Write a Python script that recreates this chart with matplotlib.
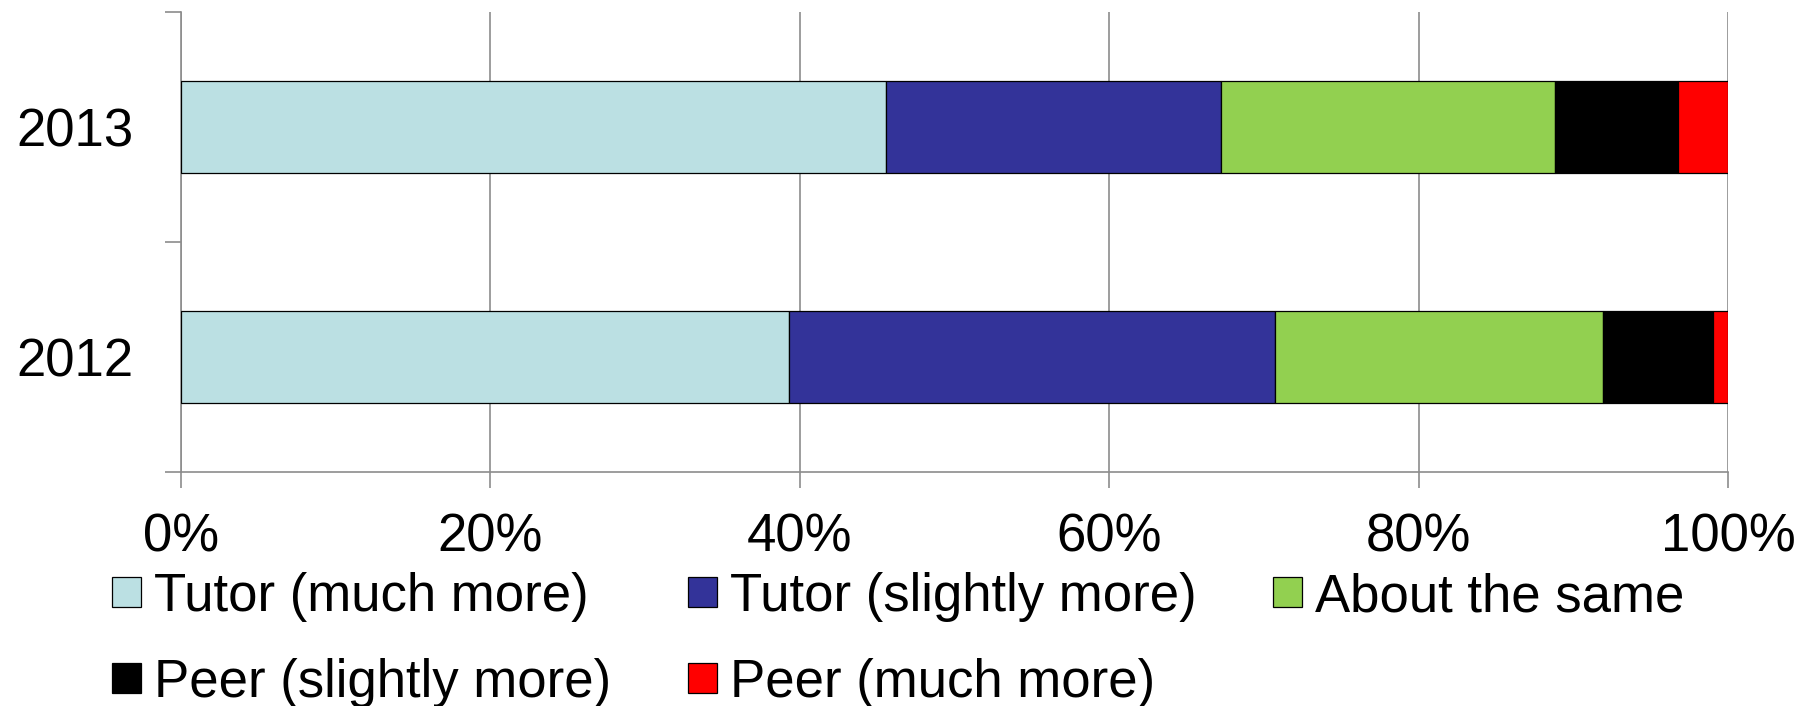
import numpy as np
import matplotlib.pyplot as plt
from matplotlib.ticker import FixedLocator

plt.rcParams['font.family'] = ['Liberation Sans', 'DejaVu Sans']

# survey years, bottom to top
years = ['2012', '2013']

# share of responses per answer (percent), one value per year
tutor_much = [39.3, 45.6]
tutor_slightly = [31.4, 21.6]
about_same = [21.2, 21.6]
peer_slightly = [7.1, 8.0]
peer_much = [1.0, 3.2]

series_names = ['Tutor (much more)', 'Tutor (slightly more)', 'About the same',
                'Peer (slightly more)', 'Peer (much more)']
series_values = [tutor_much, tutor_slightly, about_same, peer_slightly, peer_much]
series_colors = ['#BBE0E3', '#333399', '#92D050', '#000000', '#FF0000']

xticks = [0, 20, 40, 60, 80, 100]
xtick_labels = ['0%', '20%', '40%', '60%', '80%', '100%']

fig = plt.figure(figsize=(18.12, 7.06), dpi=100)
ax = fig.add_axes([181/1812, 1 - 472/706, (1728-181)/1812, (472-12)/706])

ypos = np.arange(len(years))
left = np.zeros(len(years))
handles = []
for name, vals, col in zip(series_names, series_values, series_colors):
    vals = np.array(vals, dtype=float)
    h = ax.barh(ypos, vals, left=left, height=0.4, color=col,
                edgecolor='black', linewidth=0.9, label=name, zorder=3)
    handles.append(h)
    left += vals

ax.set_xlim(0, 100)
ax.set_ylim(-0.5, len(years) - 0.5)

grid_gray = '#8C8C8C'
ax.set_xticks(xticks)
ax.set_xticklabels(xtick_labels, fontsize=38)
ax.xaxis.grid(True, color=grid_gray, linewidth=1.2, zorder=0)
ax.tick_params(axis='x', length=11.5, width=1.2, color=grid_gray, pad=18)

ax.set_yticks(ypos)
ax.set_yticklabels(years, fontsize=38)
ax.tick_params(axis='y', which='major', length=0, pad=34)
ax.yaxis.set_minor_locator(FixedLocator(np.arange(-0.5, len(years), 1.0)))
ax.tick_params(axis='y', which='minor', length=11.5, width=1.2, color=grid_gray)

for side in ['top', 'right']:
    ax.spines[side].set_visible(False)
for side in ['left', 'bottom']:
    ax.spines[side].set_color(grid_gray)
    ax.spines[side].set_linewidth(1.2)

# legend reads row by row, matplotlib fills columns first
order = [0, 3, 1, 4, 2]
leg = fig.legend([handles[i] for i in order], [series_names[i] for i in order],
                 ncol=3, loc='upper left', bbox_to_anchor=(112/1812, 1 - 572/706),
                 frameon=False, fontsize=38, handlelength=0.55, handleheight=0.5,
                 handletextpad=0.25, columnspacing=1.45, labelspacing=0.68,
                 borderpad=0, borderaxespad=0)

fig.savefig('out.png', dpi=100)
